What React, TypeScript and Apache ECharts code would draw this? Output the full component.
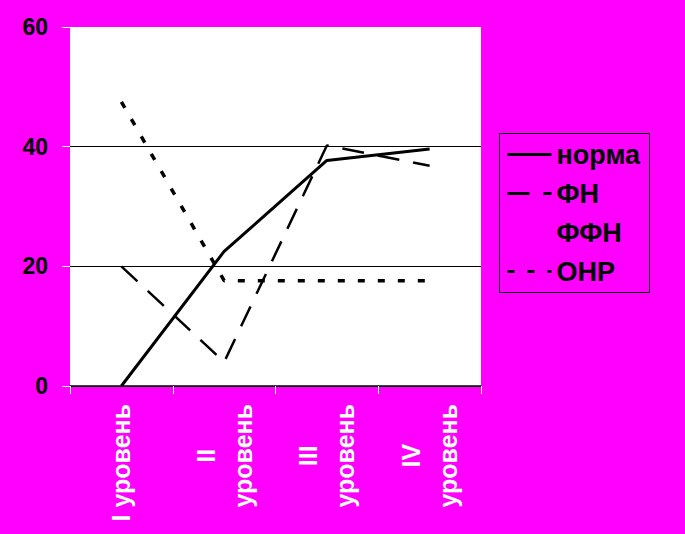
import React, { useEffect, useRef } from "react";
import * as echarts from "echarts";

const categories = ["I уровень", "II\nуровень", "III\nуровень", "IV\nуровень"];
const seriesNames = ["норма", "ФН", "ФФН", "ОНР"];
const norma = [0, 22.5, 37.7, 39.6];
const fn = [20, 4, 40.2, 36.8];
const ffn: (number | null)[] = [null, null, null, null];
const onr = [47.5, 17.6, 17.6, 17.6];

const FONT = "'Liberation Sans', Arial, sans-serif";

export default function App() {
  const ref = useRef<HTMLDivElement>(null);
  useEffect(() => {
    if (!ref.current) return;
    const chart = echarts.init(ref.current, null, { renderer: "svg" });
    chart.setOption({
      animation: false,
      backgroundColor: "#FF00FF",
      grid: {
        left: 70,
        right: 204,
        top: 27,
        bottom: 148,
        show: true,
        backgroundColor: "#ffffff",
        borderWidth: 0,
      },
      graphic: [
        {
          type: "rect",
          left: 497,
          top: 131,
          shape: { width: 150, height: 159 },
          style: { fill: "none", stroke: "#000", lineWidth: 1 },
        },
      ],
      legend: {
        orient: "vertical",
        left: 506,
        top: 141,
        itemWidth: 44,
        itemHeight: 14,
        itemGap: 12,
        padding: 0,
        selectedMode: false,
        data: seriesNames,
        itemStyle: { opacity: 0 },
        lineStyle: { width: 3 },
        textStyle: {
          color: "#000",
          fontFamily: FONT,
          fontWeight: "bold",
          fontSize: 27,
          lineHeight: 26,
        },
      },
      xAxis: {
        type: "category",
        data: categories,
        boundaryGap: true,
        axisLine: { show: true, lineStyle: { color: "#000", width: 1.5 } },
        axisTick: { show: true, length: 8, lineStyle: { color: "#fff", width: 1 } },
        axisLabel: {
          rotate: 90,
          margin: 18,
          interval: 0,
          color: "#fff",
          fontFamily: FONT,
          fontWeight: "bold",
          fontSize: 25,
          formatter: (v: string) =>
            v
              .split("\n")
              .map((s) => `{a|${s}}`)
              .join("\n"),
          rich: {
            a: {
              align: "center",
              color: "#fff",
              fontFamily: FONT,
              fontWeight: "bold",
              fontSize: 25,
              lineHeight: 37,
            },
          },
        },
      },
      yAxis: {
        type: "value",
        min: 0,
        max: 60,
        interval: 20,
        axisLine: { show: false },
        axisTick: { show: true, length: 8, lineStyle: { color: "#fff", width: 1 } },
        axisLabel: {
          margin: 22,
          color: "#000",
          fontFamily: FONT,
          fontWeight: "bold",
          fontSize: 23,
          textShadowColor: "#fff",
          textShadowOffsetX: -1,
          textShadowOffsetY: -1,
          textShadowBlur: 0,
        },
        splitLine: {
          show: true,
          showMaxLine: false,
          lineStyle: { color: "#000", width: 1 },
        },
      },
      series: [
        {
          name: seriesNames[0],
          type: "line",
          data: norma,
          symbol: "none",
          lineStyle: { color: "#000", width: 3, type: "solid" },
          itemStyle: { color: "#000" },
        },
        {
          name: seriesNames[1],
          type: "line",
          data: fn,
          symbol: "none",
          lineStyle: { color: "#000", width: 2.5, type: [22, 14] },
          itemStyle: { color: "#000" },
        },
        {
          name: seriesNames[2],
          type: "line",
          data: ffn,
          symbol: "none",
          lineStyle: { color: "#000", width: 2.5, opacity: 0 },
          itemStyle: { color: "#000", opacity: 0 },
        },
        {
          name: seriesNames[3],
          type: "line",
          data: onr,
          symbol: "none",
          lineStyle: { color: "#000", width: 3.5, type: [7, 13] },
          itemStyle: { color: "#000" },
        },
      ],
    });
    return () => chart.dispose();
  }, []);
  return (
    <div
      ref={ref}
      style={{ position: "fixed", left: 0, top: 0, width: 685, height: 534 }}
    />
  );
}
